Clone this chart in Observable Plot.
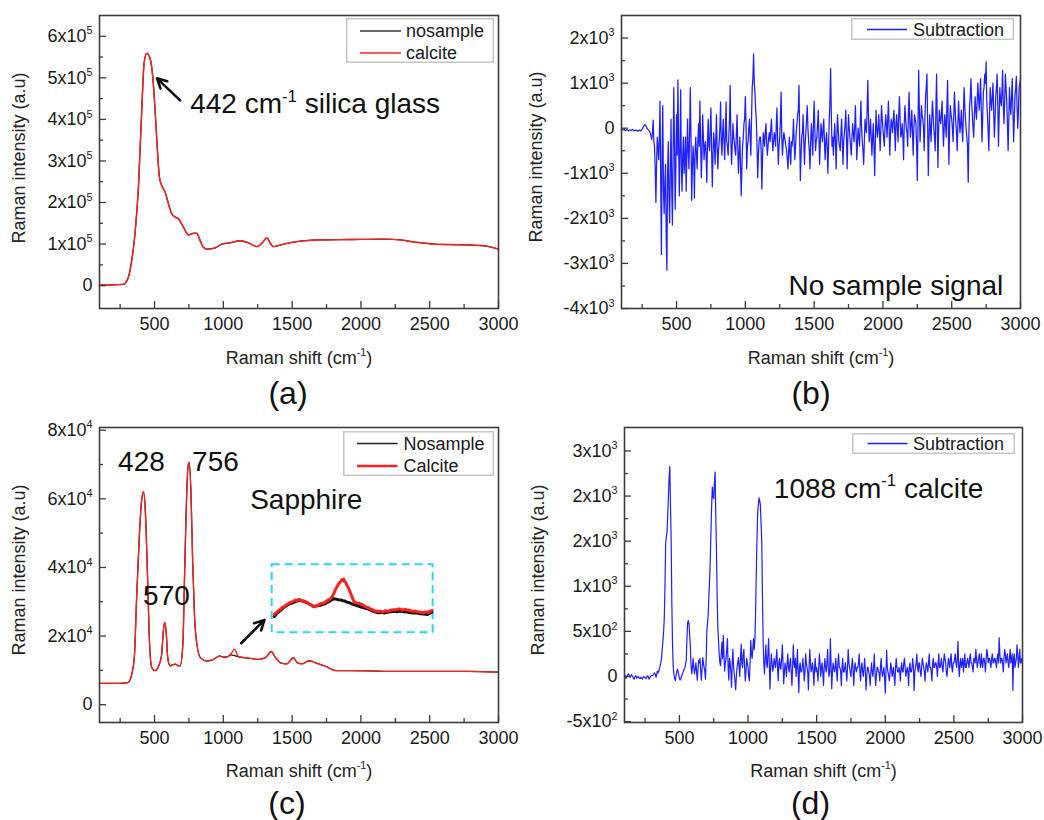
<!DOCTYPE html>
<html><head><meta charset="utf-8">
<script src="https://cdn.jsdelivr.net/npm/d3@7"></script>
<script src="https://cdn.jsdelivr.net/npm/@observablehq/plot@0.6"></script>
<style>
body{margin:0;background:#fff;}
#fig{position:relative;width:1044px;height:820px;overflow:hidden;background:#fff;font-family:"Liberation Sans",Arial,sans-serif;}
#fig svg{position:absolute;}
</style></head><body><div id="fig"></div>
<script>
// ---------- shared axis values ----------
const xTicks = [500, 1000, 1500, 2000, 2500, 3000];
const xMinorTicks = [250, 750, 1250, 1750, 2250, 2750];
const xAxisTitle = "Raman shift (cm^{-1})";
const yAxisTitle = "Raman intensity (a.u)";

// ---------- (a) silica glass ----------
const aShift = [100,200,273,310,334,358,383,407,424,443,467,487,504,521,535,552,577,601,625,650,674,710,747,783,807,827,856,880,941,989,1050,1122,1183,1244,1280,1317,1341,1365,1438,1560,1681,1924,2166,2287,2409,2530,2773,2894,2967,3000];
const aCalcite = [2000,2000,3000,20000,60000,125000,237000,422000,535000,559000,547000,503000,422000,326000,262000,241000,225000,197000,173000,165000,161000,141000,122000,126000,126000,112000,92000,88000,91000,100000,103000,108000,103000,94000,102000,115000,102000,94000,100000,107000,110000,111000,112000,110000,104000,100000,98000,96000,91000,88000];
const aNosample = [2000,2000,3000,20000,60000,125000,237000,422000,535000,559000,547000,503000,422000,326000,262000,241000,225000,197000,173000,165000,161000,141000,122000,126000,126000,112000,92000,88000,91000,100000,103000,108000,103000,94000,102000,115000,102000,94000,100000,107000,110000,111000,112000,110000,104000,100000,98000,96000,91000,88000];
const aYTicks = [0,100000,200000,300000,400000,500000,600000];
const aYTickLabels = ["0","1x10^5","2x10^5","3x10^5","4x10^5","5x10^5","6x10^5"];
const aYMinor = [50000,150000,250000,350000,450000,550000];
const aNote = {shift: 759, intensity: 414500, text: "442 cm^{-1} silica glass"};
const aArrow = {x1: 686, y1: 445800, x2: 518, y2: 498800};

// ---------- sampling grids for the subtraction spectra ----------
const gridShift = [
100,110,120,130,140,150,160,170,180,190,
200,210,220,230,240,250,260,270,280,290,
300,310,320,330,340,350,360,370,380,390,
400,410,420,430,440,450,460,470,480,490,
500,510,520,530,540,550,560,570,580,590,
600,610,620,630,640,650,660,670,680,690,
700,710,720,730,740,750,760,770,780,790,
800,810,820,830,840,850,860,870,880,890,
900,910,920,930,940,950,960,970,980,990,
1000,1010,1020,1030,1040,1050,1060,1070,1080,1090,
1100,1110,1120,1130,1140,1150,1160,1170,1180,1190,
1200,1210,1220,1230,1240,1250,1260,1270,1280,1290,
1300,1310,1320,1330,1340,1350,1360,1370,1380,1390,
1400,1410,1420,1430,1440,1450,1460,1470,1480,1490,
1500,1510,1520,1530,1540,1550,1560,1570,1580,1590,
1600,1610,1620,1630,1640,1650,1660,1670,1680,1690,
1700,1710,1720,1730,1740,1750,1760,1770,1780,1790,
1800,1810,1820,1830,1840,1850,1860,1870,1880,1890,
1900,1910,1920,1930,1940,1950,1960,1970,1980,1990,
2000,2010,2020,2030,2040,2050,2060,2070,2080,2090,
2100,2110,2120,2130,2140,2150,2160,2170,2180,2190,
2200,2210,2220,2230,2240,2250,2260,2270,2280,2290,
2300,2310,2320,2330,2340,2350,2360,2370,2380,2390,
2400,2410,2420,2430,2440,2450,2460,2470,2480,2490,
2500,2510,2520,2530,2540,2550,2560,2570,2580,2590,
2600,2610,2620,2630,2640,2650,2660,2670,2680,2690,
2700,2710,2720,2730,2740,2750,2760,2770,2780,2790,
2800,2810,2820,2830,2840,2850,2860,2870,2880,2890,
2900,2910,2920,2930,2940,2950,2960,2970,2980,2990,
3000];
const gridShiftMid = [
105,115,125,135,145,155,165,175,185,195,
205,215,225,235,245,255,265,275,285,295,
305,315,325,335,345,355,365,375,385,395,
405,415,425,435,445,455,465,475,485,495,
505,515,525,535,545,555,565,575,585,595,
605,615,625,635,645,655,665,675,685,695,
705,715,725,735,745,755,765,775,785,795,
805,815,825,835,845,855,865,875,885,895,
905,915,925,935,945,955,965,975,985,995,
1005,1015,1025,1035,1045,1055,1065,1075,1085,1095,
1105,1115,1125,1135,1145,1155,1165,1175,1185,1195,
1205,1215,1225,1235,1245,1255,1265,1275,1285,1295,
1305,1315,1325,1335,1345,1355,1365,1375,1385,1395,
1405,1415,1425,1435,1445,1455,1465,1475,1485,1495,
1505,1515,1525,1535,1545,1555,1565,1575,1585,1595,
1605,1615,1625,1635,1645,1655,1665,1675,1685,1695,
1705,1715,1725,1735,1745,1755,1765,1775,1785,1795,
1805,1815,1825,1835,1845,1855,1865,1875,1885,1895,
1905,1915,1925,1935,1945,1955,1965,1975,1985,1995,
2005,2015,2025,2035,2045,2055,2065,2075,2085,2095,
2105,2115,2125,2135,2145,2155,2165,2175,2185,2195,
2205,2215,2225,2235,2245,2255,2265,2275,2285,2295,
2305,2315,2325,2335,2345,2355,2365,2375,2385,2395,
2405,2415,2425,2435,2445,2455,2465,2475,2485,2495,
2505,2515,2525,2535,2545,2555,2565,2575,2585,2595,
2605,2615,2625,2635,2645,2655,2665,2675,2685,2695,
2705,2715,2725,2735,2745,2755,2765,2775,2785,2795,
2805,2815,2825,2835,2845,2855,2865,2875,2885,2895,
2905,2915,2925,2935,2945,2955,2965,2975,2985,2995];

// ---------- (b) subtraction, no sample ----------
const bSubtraction = [
-30,-40,-20,-50,-30,-60,-40,-50,-30,-60,
-40,-50,-70,-40,-60,-20,30,80,40,-20,
-50,-120,-250,180,-400,-1650,-200,-700,600,-2800,
500,-1900,-800,-3150,-300,-2100,200,-2150,900,-1800,
300,1070,-1500,850,-1400,-200,-700,-1400,200,-900,
900,-1600,-400,-1550,-200,-900,100,600,-1100,300,
-700,-300,-1200,200,-500,450,-1300,-100,-800,300,
-900,-300,580,-600,200,-700,580,-400,-200,950,
-800,100,-300,-600,300,-1000,-200,-1500,-400,100,
700,-900,-300,200,-600,900,1650,800,200,-1100,
-300,-200,-1350,-100,-400,100,-600,-200,-300,200,
-500,-100,-400,450,-800,-200,800,-600,-100,-300,
-500,-900,-200,-800,-400,200,-700,-100,300,950,
-1160,-200,300,-800,-100,500,-300,-900,100,-600,
600,-500,-200,400,-800,100,-300,200,-700,-100,
-1000,200,1320,-400,-600,100,-900,300,-300,-500,
200,-800,-100,400,-900,300,-200,-600,100,-300,
500,-700,0,-400,600,-300,-800,200,-100,1060,
-300,200,-600,100,-1050,400,-200,300,-500,500,
0,-400,300,-200,600,-600,200,-100,400,-500,
300,-300,700,-200,100,-700,500,0,-400,800,
-200,400,-600,300,100,-1160,1280,-300,500,200,
-500,700,1200,-1050,300,-300,600,0,-500,1200,
-870,400,100,600,-400,300,-200,1060,-800,500,
200,-300,800,100,-500,600,-100,400,-300,900,
200,-200,-1200,500,1100,300,-200,700,200,1000,
400,1100,-300,800,1200,1470,300,-500,900,400,
1000,-200,700,1200,-400,900,500,1280,100,1200,
600,-500,900,300,1100,-300,700,1150,0,900,
1100];
const bSubtractionMid = [
-40,-30,-50,-40,-40,-50,-50,-40,-40,-50,
-50,-60,-50,-50,-40,10,60,60,0,-40,
-80,-180,-100,-300,-900,-800,-450,-200,-1200,-600,
-1400,-1200,-2400,-1000,-1500,-900,-1300,-600,-300,-900,
-600,-300,-500,-800,-600,-1000,-200,-600,-500,-100,
-200,-900,-700,-500,-600,-300,-400,-300,-600,-200,
-400,-600,-300,-400,0,-500,-600,-300,-300,-400,
-500,0,-300,-100,-300,-100,-300,-600,200,-300,
-400,-200,-500,-100,-400,-600,-800,-900,-200,200,
100,-400,0,-200,200,1100,1000,400,-400,-600,
-200,-500,-700,-200,-100,-300,-400,-100,0,-200,
-300,-200,100,-300,-400,200,-200,-300,-200,-400,
-700,-500,-600,-300,-200,-300,-400,100,400,-200,
-600,-100,-300,-300,200,0,-500,-300,-200,100,
0,-300,100,-200,-300,-100,0,-300,-300,-400,
-400,600,300,-200,-200,-300,-200,0,-400,-100,
-300,-300,100,-200,-200,0,-400,-200,-100,0,
-100,-300,-200,100,0,-500,-300,0,400,300,
-100,-200,-200,-400,-300,0,0,-100,0,200,
-200,0,100,200,0,-100,100,200,0,100,
0,300,200,-100,-200,100,200,-100,300,200,
100,-100,0,200,-400,100,400,100,300,0,
200,900,100,-200,0,200,300,-200,400,100,
0,200,300,100,0,100,500,0,100,300,
0,300,400,-100,100,200,100,0,300,500,
0,-400,-100,700,600,0,300,400,600,700,
700,400,200,900,1000,600,-100,300,600,700,
400,200,900,500,300,600,800,500,600,900,
100,200,500,700,400,200,900,500,400,1000];
const bYTicks = [-4000,-3000,-2000,-1000,0,1000,2000];
const bYTickLabels = ["-4x10^3","-3x10^3","-2x10^3","-1x10^3","0","1x10^3","2x10^3"];
const bYMinor = [-3500,-2500,-1500,-500,500,1500];
const bNote = {shift: 1314, intensity: -3711, text: "No sample signal"};

// ---------- (c) sapphire ----------
const cShift = [100,200,280,310,334,353,370,389,406,420,433,448,462,479,503,535,552,564,574,584,596,613,630,650,670,686,706,718,730,743,752,765,777,791,808,833,881,930,974,998,1023,1057,1083,1105,1149,1197,1258,1307,1348,1380,1416,1460,1494,1509,1538,1574,1623,1671,1744,1817,1926,2290,2775,3000];
const cCalcite = [6200,6200,6300,6500,8800,13700,31200,48800,59500,62000,56500,39000,19600,10900,9900,11800,14700,21500,24000,21500,13700,11300,11600,11800,11400,11300,17600,37100,56500,69200,70600,61400,41900,25400,17600,13700,12700,13200,14200,13900,13900,14900,16200,14200,13700,13500,13200,13700,15500,13700,12200,11900,13200,13700,12200,11900,12800,12200,11200,9900,9900,9700,9700,9500];
const cNosample = [6200,6200,6300,6500,8800,13700,31200,48800,59500,62000,56500,39000,19600,10900,9900,11800,14700,21500,24000,21500,13700,11300,11600,11800,11400,11300,17600,37100,56500,69200,70600,61400,41900,25400,17600,13700,12700,13200,14200,13900,13900,14500,14300,14000,13700,13500,13200,13700,15500,13700,12200,11900,13200,13700,12200,11900,12800,12200,11200,9900,9900,9700,9700,9500];
// zoomed inset (drawn inside the dashed box)
const cInsetShiftRed = [1370,1380,1390,1402,1414,1428,1440,1450,1462,1476,1490,1500,1511,1523,1535,1547,1559,1572,1585,1596,1608,1620,1630,1643,1656,1665,1675,1684,1692,1704,1715,1728,1741,1753,1765,1777,1789,1802,1814,1826,1838,1847,1855,1862,1869,1875,1880,1887,1893,1902,1910,1917,1923,1930,1937,1945,1952,1963,1975,1985,1996,2008,2020,2032,2044,2057,2070,2082,2093,2105,2117,2129,2141,2153,2165,2178,2190,2202,2214,2226,2238,2250,2262,2275,2287,2299,2311,2323,2335,2348,2360,2372,2384,2396,2408,2420,2432,2444,2456,2468,2481,2490,2500,2508,2517];
const cInsetCalcite = [26300,26700,26900,27500,27700,28300,28500,28900,29100,29600,29800,30000,30200,30500,30300,30700,30600,30200,30300,30000,29900,29400,29200,28900,28600,28500,28900,28800,29100,29400,29500,29700,29900,30300,30500,30900,31300,32300,33500,34300,35300,35600,36000,36500,36300,36600,35900,35800,35300,34500,34000,33300,32700,32000,31200,30500,29900,29700,29600,29600,29400,29200,28900,28600,28400,28200,27900,27700,27500,27200,27300,27100,27300,27100,27100,27400,27200,27300,27500,27600,27700,27600,27800,27900,27900,27600,27700,27800,27500,27600,27400,27300,27200,27300,27100,27000,27000,26800,26900,27000,27000,26800,27300,27200,27500];
const cInsetShiftBlack = [1370,1392,1414,1438,1462,1486,1511,1535,1559,1583,1608,1632,1656,1678,1700,1720,1741,1753,1765,1777,1789,1802,1814,1826,1838,1854,1870,1884,1899,1917,1935,1953,1972,1990,2008,2026,2044,2060,2075,2090,2105,2128,2150,2170,2190,2215,2240,2263,2287,2311,2335,2360,2384,2408,2432,2456,2481,2490,2500,2508,2517];
const cInsetNosample = [25700,26700,27400,28300,28900,29500,29800,30200,30400,30100,29700,29200,28600,28800,28900,29200,29400,29800,30000,30300,30600,30900,30800,30700,30600,30500,30300,30200,29900,29700,29400,29100,28900,28600,28400,28200,28000,27800,27500,27200,27000,26800,26900,26700,26900,27100,27200,27100,27300,27100,27000,26800,26700,26700,26500,26400,26300,26400,26600,26800,27000];
const cInsetBox = {x1: 1355, x2: 2525, y1: 21000, y2: 40800};
const cArrow = {x1: 1130, y1: 17900, x2: 1299, y2: 24700};
const cNotes = [
  {shift: 235, intensity: 68200, text: "428"},
  {shift: 773, intensity: 68200, text: "756"},
  {shift: 417, intensity: 29150, text: "570"},
  {shift: 1195, intensity: 57100, text: "Sapphire"}
];
const cYTicks = [0,20000,40000,60000,80000];
const cYTickLabels = ["0","2x10^4","4x10^4","6x10^4","8x10^4"];
const cYMinor = [10000,30000,50000,70000];

// ---------- (d) subtraction, calcite ----------
const dSubtraction = [
0,-20,10,30,-10,20,0,-30,10,-20,
0,-20,-10,-30,0,-10,-20,10,-30,0,
10,20,40,-10,60,60,120,210,400,650,
1470,1600,2000,2330,1510,360,30,-45,50,60,
-20,-30,20,60,100,180,600,580,330,30,
200,30,150,-40,180,200,-40,210,100,-30,
500,690,1070,1600,2100,1970,2265,1400,550,250,
120,380,455,60,200,420,-40,150,-120,300,
30,-150,100,210,0,360,100,300,-50,200,
100,-50,400,200,420,400,1130,1800,1980,1900,
1510,400,30,350,100,420,-140,250,60,200,
100,300,-50,200,80,350,-80,150,0,250,
50,200,-100,350,100,0,300,-180,150,50,
200,-50,250,100,-150,300,50,150,-100,200,
100,-50,250,0,150,-100,200,50,300,0,
420,-135,150,50,200,-50,250,100,-100,200,
50,150,-50,300,100,0,200,-100,150,50,
100,250,-50,150,0,200,-150,100,50,-100,
150,0,250,-100,100,50,-50,200,0,100,
-185,290,50,-50,150,0,100,-100,200,50,
100,-50,150,50,200,0,100,-100,150,50,
200,-155,100,250,50,150,0,200,100,-50,
150,50,250,100,-50,200,100,150,0,250,
100,200,50,250,150,0,200,100,250,50,
150,250,100,390,0,200,150,50,250,100,
200,100,250,150,50,200,300,100,200,150,
250,100,200,50,300,150,200,100,250,150,
200,100,250,430,150,200,50,300,150,250,
100,300,200,-155,250,150,350,100,300,150,
200];
const dSubtractionMid = [
10,-10,20,10,0,10,-20,-10,0,-10,
-10,-20,-20,-10,-10,-20,0,-10,-10,10,
10,30,20,30,40,90,160,300,500,1000,
1550,1800,2200,1900,800,100,-20,0,80,20,
-40,0,40,80,140,420,620,450,120,100,
100,80,60,70,150,60,80,150,60,200,
600,900,1300,1900,2000,2150,1800,900,400,150,
250,200,250,150,300,100,200,50,150,100,
-50,0,150,100,200,150,250,100,50,150,
0,150,250,300,300,700,1500,1900,1950,1700,
900,150,200,150,250,150,100,150,100,150,
200,100,150,100,200,150,50,100,150,100,
150,50,100,150,200,100,50,100,50,100,
100,50,150,50,100,150,100,50,100,50,
50,100,150,100,50,100,100,150,100,50,
150,50,100,100,50,150,100,50,100,50,
100,50,100,150,50,100,100,50,100,100,
150,50,100,50,100,50,0,100,0,50,
50,100,50,0,100,50,100,50,50,0,
50,100,0,50,100,50,0,100,100,50,
50,100,50,150,100,50,50,100,50,100,
100,50,150,100,150,50,100,150,50,100,
100,150,100,50,150,100,150,100,150,100,
150,100,150,200,50,100,150,200,100,150,
200,150,200,100,150,100,200,150,100,150,
150,200,150,100,200,150,200,150,250,100,
150,200,150,200,250,200,150,200,150,200,
150,200,150,250,200,150,200,250,200,150,
200,150,250,200,100,200,250,200,150,200];
const dYTicks = [-500,0,500,1000,1500,2000,2500];
const dYTickLabels = ["-5x10^2","0","5x10^2","1x10^3","2x10^3","2x10^3","3x10^3"];
const dYMinor = [-250,250,750,1250,1750,2250];
const dNote = {shift: 1188, intensity: 1981, text: "1088 cm^{-1} calcite"};

// ---------- helpers ----------
const FONT = "'Liberation Sans', Arial, sans-serif";
const INK = "#3c3c3c";
const RED = "#ff2020", BLUE = "#1f1fff", BLACK = "#151515";
const fig = document.getElementById("fig");
const rows = (xs, ys) => xs.map((x, i) => ({x, y: ys[i]}));
const merged = (xs1, ys1, xs2, ys2) => rows(xs1, ys1).concat(rows(xs2, ys2)).sort((p, q) => p.x - q.x);

function panel(o) {
  const fw = o.width - o.mL - o.mR, fh = o.height - o.mT - o.mB;
  const svg = Plot.plot({
    width: o.width, height: o.height,
    marginLeft: o.mL, marginRight: o.mR, marginTop: o.mT, marginBottom: o.mB,
    style: {fontFamily: FONT, fontSize: "18px", color: "#1a1a1a", background: "transparent", overflow: "visible"},
    x: {domain: [100, 3000]},
    y: {domain: o.yDomain},
    marks: [
      ...o.marks,
      Plot.tickX(xTicks, {x: d => d, insetTop: fh - 7, stroke: INK, strokeWidth: 1.3}),
      Plot.tickX(xMinorTicks, {x: d => d, insetTop: fh - 4, stroke: INK, strokeWidth: 1.3}),
      Plot.tickY(o.yTicks, {y: d => d, insetRight: fw - 7, stroke: INK, strokeWidth: 1.3}),
      Plot.tickY(o.yMinor, {y: d => d, insetRight: fw - 4, stroke: INK, strokeWidth: 1.3}),
      Plot.frame({stroke: INK, strokeWidth: 1.6}),
      Plot.axisX(xTicks, {tickSize: 0, tickPadding: 9, tickFormat: d => String(d), label: null, fontSize: 18}),
      Plot.axisY(o.yTicks, {tickSize: 0, tickPadding: 7, tickFormat: d => o.yTickLabels[o.yTicks.indexOf(d)], label: null, fontSize: 18}),
      Plot.text([xAxisTitle], {text: d => d, frameAnchor: "bottom", textAnchor: "middle", lineAnchor: "bottom", dy: o.xLabelDy, fontSize: 18, fill: "#222"}),
      Plot.text([yAxisTitle], {text: d => d, frameAnchor: "left", textAnchor: "middle", lineAnchor: "middle", rotate: -90, dx: o.yLabelDx, dy: o.yLabelDy, fontSize: 18, fill: "#222"}),
      Plot.text([o.tag], {text: d => d, frameAnchor: "bottom", textAnchor: "middle", lineAnchor: "bottom", dx: o.tagDx, dy: o.tagDy, fontSize: 32, fill: "#111"})
    ]
  });
  svg.style.left = o.left + "px";
  svg.style.top = o.top + "px";
  fig.appendChild(svg);
  return svg;
}

function legend(left, top, w, h, sx1, sx2, tx, entries) {
  const s = d3.select(fig).append("svg")
    .style("left", left + "px").style("top", top + "px")
    .attr("width", w).attr("height", h)
    .style("font-family", FONT).style("font-size", "18px");
  s.append("rect").attr("x", 0.75).attr("y", 0.75).attr("width", w - 1.5).attr("height", h - 1.5)
    .attr("fill", "#fff").attr("stroke", "#c6c6c6").attr("stroke-width", 1.5);
  entries.forEach(e => {
    s.append("line").attr("x1", sx1).attr("x2", sx2).attr("y1", e.y).attr("y2", e.y)
      .attr("stroke", e.color).attr("stroke-width", e.width);
    s.append("text").attr("x", tx).attr("y", e.y).attr("dy", "0.35em").attr("fill", "#1a1a1a").text(e.label);
  });
}

function superscripts(root) {
  root.querySelectorAll("text").forEach(t => {
    if (t.querySelector("tspan")) return;
    const s = t.textContent;
    if (!s.includes("^")) return;
    const fs = parseFloat(getComputedStyle(t).fontSize) || 18;
    const rise = fs * 0.42, small = fs * 0.6;
    t.textContent = "";
    let raised = false;
    s.split(/(\^\{[^}]*\}|\^\S)/).forEach(p => {
      if (!p) return;
      const ts = document.createElementNS("http://www.w3.org/2000/svg", "tspan");
      if (p[0] === "^") {
        ts.textContent = p[1] === "{" ? p.slice(2, -1) : p.slice(1);
        ts.setAttribute("font-size", small);
        ts.setAttribute("dy", -rise);
        raised = true;
      } else {
        ts.textContent = p;
        if (raised) { ts.setAttribute("dy", rise); raised = false; }
      }
      t.appendChild(ts);
    });
  });
}

// ---------- (a) ----------
panel({
  left: 0, top: 0, width: 520, height: 410, mL: 99, mR: 22, mT: 15, mB: 102,
  yDomain: [-55000, 650000], yTicks: aYTicks, yTickLabels: aYTickLabels, yMinor: aYMinor,
  xLabelDy: 55, yLabelDx: -80, yLabelDy: -4, tag: "(a)", tagDx: -11, tagDy: 95,
  marks: [
    Plot.line(rows(aShift, aNosample), {x: "x", y: "y", stroke: BLACK, strokeWidth: 1.3, curve: "monotone-x"}),
    Plot.line(rows(aShift, aCalcite), {x: "x", y: "y", stroke: RED, strokeWidth: 1.4, curve: "monotone-x"}),
    Plot.arrow([aArrow], {x1: "x1", y1: "y1", x2: "x2", y2: "y2", stroke: "#111", strokeWidth: 2.6, headLength: 11, headAngle: 55}),
    Plot.text([aNote], {x: "shift", y: "intensity", text: "text", textAnchor: "start", lineAnchor: "bottom", fontSize: 28, fill: "#111"})
  ]
});
legend(346, 18, 148, 45, 14, 55, 60, [
  {label: "nosample", color: "#333", width: 1.3, y: 13},
  {label: "calcite", color: RED, width: 1.5, y: 35}
]);

// ---------- (b) ----------
panel({
  left: 520, top: 0, width: 524, height: 410, mL: 101, mR: 24, mT: 15, mB: 102,
  yDomain: [-4000, 2500], yTicks: bYTicks, yTickLabels: bYTickLabels, yMinor: bYMinor,
  xLabelDy: 55, yLabelDx: -85, yLabelDy: -5, tag: "(b)", tagDx: -10, tagDy: 95,
  marks: [
    Plot.line(merged(gridShift, bSubtraction, gridShiftMid, bSubtractionMid), {x: "x", y: "y", stroke: BLUE, strokeWidth: 1.25}),
    Plot.text([bNote], {x: "shift", y: "intensity", text: "text", textAnchor: "start", lineAnchor: "bottom", fontSize: 28, fill: "#111"})
  ]
});
legend(851, 18, 163, 22, 16, 56, 62, [
  {label: "Subtraction", color: BLUE, width: 1.3, y: 11.5}
]);

// ---------- (c) ----------
panel({
  left: 0, top: 410, width: 520, height: 410, mL: 99, mR: 22, mT: 17, mB: 98,
  yDomain: [-5200, 80800], yTicks: cYTicks, yTickLabels: cYTickLabels, yMinor: cYMinor,
  xLabelDy: 54, yLabelDx: -80, yLabelDy: -5, tag: "(c)", tagDx: -12, tagDy: 91,
  marks: [
    Plot.line(rows(cShift, cNosample), {x: "x", y: "y", stroke: BLACK, strokeWidth: 1.3, curve: "monotone-x"}),
    Plot.line(rows(cShift, cCalcite), {x: "x", y: "y", stroke: RED, strokeWidth: 1.3, curve: "monotone-x"}),
    Plot.rect([cInsetBox], {x1: "x1", x2: "x2", y1: "y1", y2: "y2", fill: "none", stroke: "#2ed6ea", strokeWidth: 2, strokeDasharray: "8,5"}),
    Plot.line(rows(cInsetShiftBlack, cInsetNosample), {x: "x", y: "y", stroke: BLACK, strokeWidth: 3}),
    Plot.line(rows(cInsetShiftRed, cInsetCalcite), {x: "x", y: "y", stroke: RED, strokeWidth: 3}),
    Plot.arrow([cArrow], {x1: "x1", y1: "y1", x2: "x2", y2: "y2", stroke: "#111", strokeWidth: 2.6, headLength: 11, headAngle: 55}),
    Plot.text(cNotes, {x: "shift", y: "intensity", text: "text", textAnchor: "start", lineAnchor: "bottom", fontSize: 28, fill: "#111"})
  ]
});
legend(343, 431, 151, 45, 14, 54.5, 60.5, [
  {label: "Nosample", color: "#222", width: 1.5, y: 12.5},
  {label: "Calcite", color: RED, width: 2.6, y: 35}
]);

// ---------- (d) ----------
panel({
  left: 520, top: 410, width: 524, height: 410, mL: 104, mR: 22, mT: 17, mB: 98,
  yDomain: [-510, 2760], yTicks: dYTicks, yTickLabels: dYTickLabels, yMinor: dYMinor,
  xLabelDy: 54, yLabelDx: -86, yLabelDy: -5, tag: "(d)", tagDx: -13, tagDy: 91,
  marks: [
    Plot.line(merged(gridShift, dSubtraction, gridShiftMid, dSubtractionMid), {x: "x", y: "y", stroke: BLUE, strokeWidth: 1.2}),
    Plot.text([dNote], {x: "shift", y: "intensity", text: "text", textAnchor: "start", lineAnchor: "bottom", fontSize: 28, fill: "#111"})
  ]
});
legend(852, 433, 163, 21, 15.5, 55.5, 61, [
  {label: "Subtraction", color: BLUE, width: 1.3, y: 10.5}
]);

superscripts(fig);
</script></body></html>
